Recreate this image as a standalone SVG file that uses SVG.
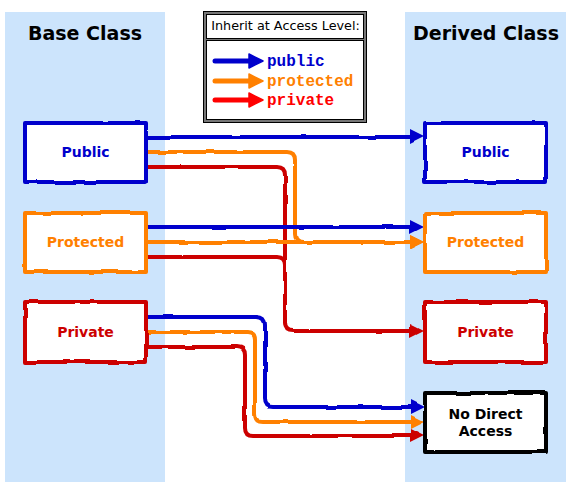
<svg xmlns="http://www.w3.org/2000/svg" width="570" height="488" viewBox="0 0 570 488">
<style>
.col{fill:#CCE4FC}
.title{font-family:"DejaVu Sans",Verdana,sans-serif;font-weight:bold;font-size:19px;text-anchor:middle;fill:#000}
.lbl{font-family:"DejaVu Sans",Verdana,sans-serif;font-weight:bold;font-size:14px;text-anchor:middle}
.box{fill:#fff;stroke-width:4;stroke-linejoin:round}
.ln{fill:none;stroke-width:4;stroke-linecap:butt;stroke-linejoin:round}
.lg{fill:none;stroke-width:5;stroke-linecap:round}
.mono{font-family:"Liberation Mono","Courier New",monospace;font-weight:bold;font-size:16px}
</style>
<defs>
<filter id="rough" x="-5%" y="-5%" width="110%" height="110%">
<feTurbulence type="fractalNoise" baseFrequency="0.04" numOctaves="2" seed="3" result="n"/>
<feDisplacementMap in="SourceGraphic" in2="n" scale="3" xChannelSelector="R" yChannelSelector="G"/>
</filter>
<marker id="aB" markerUnits="userSpaceOnUse" markerWidth="16" markerHeight="14" refX="10" refY="7" orient="auto"><path d="M0,0 L14,7 L0,14 Z" fill="#0000CC"/></marker>
<marker id="aO" markerUnits="userSpaceOnUse" markerWidth="16" markerHeight="14" refX="10" refY="7" orient="auto"><path d="M0,0 L14,7 L0,14 Z" fill="#FF8000"/></marker>
<marker id="aR" markerUnits="userSpaceOnUse" markerWidth="16" markerHeight="14" refX="10" refY="7" orient="auto"><path d="M0,0 L14,7 L0,14 Z" fill="#CC0000"/></marker>
</defs>
<rect class="col" x="5" y="12" width="160" height="470"/>
<rect class="col" x="405" y="12" width="161" height="470"/>
<text class="title" x="85" y="40">Base Class</text>
<text class="title" x="486" y="40">Derived Class</text>
<g id="legend">
<rect x="205" y="13" width="160" height="108" fill="#fff" stroke="#777" stroke-width="3"/>
<rect x="203.5" y="11.5" width="163" height="111" fill="none" stroke="#000" stroke-width="1"/>
<rect x="206.5" y="14.5" width="157" height="105" fill="none" stroke="#000" stroke-width="1"/>
<rect x="206" y="38" width="158" height="3" fill="#777"/>
<line x1="206" y1="38.5" x2="364" y2="38.5" stroke="#000" stroke-width="1"/>
<line x1="206" y1="40.5" x2="364" y2="40.5" stroke="#000" stroke-width="1"/>
<text x="285.5" y="30" font-family="DejaVu Sans,Verdana,sans-serif" font-size="12.8" text-anchor="middle" fill="#000">Inherit at Access Level:</text>
<path class="lg" d="M215,61 H252" stroke="#0000CC"/><path d="M249,54 L263,61 L249,68 Z" fill="#0000CC" stroke="#0000CC" stroke-width="1.5" stroke-linejoin="round"/>
<path class="lg" d="M215,81 H252" stroke="#FF8000"/><path d="M249,74 L263,81 L249,88 Z" fill="#FF8000" stroke="#FF8000" stroke-width="1.5" stroke-linejoin="round"/>
<path class="lg" d="M215,100 H252" stroke="#FF0000"/><path d="M249,93 L263,100 L249,107 Z" fill="#FF0000" stroke="#FF0000" stroke-width="1.5" stroke-linejoin="round"/>
<text class="mono" x="267" y="66" fill="#0000CC">public</text>
<text class="mono" x="267" y="86" fill="#FF8000">protected</text>
<text class="mono" x="267" y="105" fill="#FF0000">private</text>
</g>
<g id="connectors" filter="url(#rough)">
<path class="ln" d="M146,137 H420" stroke="#0000CC" marker-end="url(#aB)"/>
<path class="ln" d="M146,152 H287 Q295,152 295,160 V234 Q295,242 303,242 H420" stroke="#FF8000" marker-end="url(#aO)"/>
<path class="ln" d="M146,167 H277 Q285,167 285,175 V323 Q285,331 293,331 H420" stroke="#CC0000" marker-end="url(#aR)"/>
<path class="ln" d="M146,227 H420" stroke="#0000CC" marker-end="url(#aB)"/>
<path class="ln" d="M146,242 H420" stroke="#FF8000" marker-end="url(#aO)"/>
<path class="ln" d="M146,257 H277 Q285,257 285,265 V282" stroke="#CC0000"/>
<path class="ln" d="M146,317 H257 Q265,317 265,325 V399 Q265,407 273,407 H420" stroke="#0000CC" marker-end="url(#aB)"/>
<path class="ln" d="M146,332 H247 Q255,332 255,340 V414 Q255,422 263,422 H420" stroke="#FF8000" marker-end="url(#aO)"/>
<path class="ln" d="M146,347 H237 Q245,347 245,355 V428 Q245,436 253,436 H420" stroke="#CC0000" marker-end="url(#aR)"/>
</g>
<g id="base-public"><rect class="box" x="25" y="123" width="121" height="59" stroke="#0000CC" filter="url(#rough)"/><text class="lbl" x="85.5" y="157" fill="#0000CC">Public</text></g>
<g id="base-protected"><rect class="box" x="25" y="213" width="121" height="59" stroke="#FF8000" filter="url(#rough)"/><text class="lbl" x="85.5" y="247" fill="#FF8000">Protected</text></g>
<g id="base-private"><rect class="box" x="25" y="302" width="121" height="60" stroke="#CC0000" filter="url(#rough)"/><text class="lbl" x="85.5" y="337" fill="#CC0000">Private</text></g>
<g id="derived-public"><rect class="box" x="425" y="123" width="121" height="59" stroke="#0000CC" filter="url(#rough)"/><text class="lbl" x="485.5" y="157" fill="#0000CC">Public</text></g>
<g id="derived-protected"><rect class="box" x="425" y="213" width="121" height="59" stroke="#FF8000" filter="url(#rough)"/><text class="lbl" x="485.5" y="247" fill="#FF8000">Protected</text></g>
<g id="derived-private"><rect class="box" x="425" y="302" width="121" height="60" stroke="#CC0000" filter="url(#rough)"/><text class="lbl" x="485.5" y="337" fill="#CC0000">Private</text></g>
<g id="no-direct-access"><rect class="box" x="425" y="393" width="121" height="59" stroke="#000" filter="url(#rough)"/><text class="lbl" x="485.5" y="419" fill="#000">No Direct</text><text class="lbl" x="485.5" y="436" fill="#000">Access</text></g>
</svg>
